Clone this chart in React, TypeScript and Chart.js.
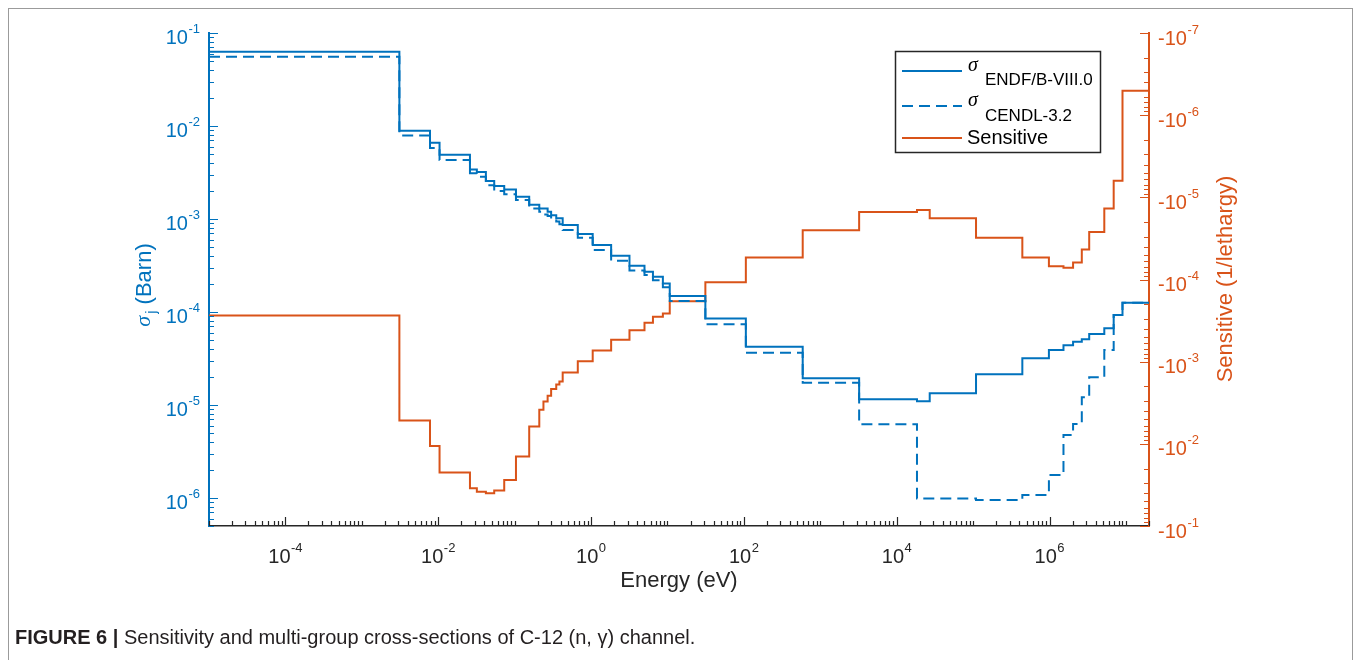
import React, { useEffect, useRef } from "react";
import { Chart, registerables } from "chart.js";

Chart.register(...registerables);

// Group boundaries (eV)
const energyBounds = [
  1e-5, 3.1e-3, 7.8e-3, 1.04e-2, 2.6e-2, 3.2e-2, 4.2e-2, 5.4e-2, 7.3e-2, 0.104,
  0.155, 0.21, 0.238, 0.27, 0.3, 0.35, 0.385, 0.425, 0.67, 1.05, 1.83, 3.18, 5.0,
  6.45, 8.7, 10.7, 31.3, 106, 588, 3220, 1.84e4, 2.7e4, 1.09e5, 4.4e5, 9.8e5,
  1.52e6, 2.03e6, 2.64e6, 3.3e6, 5.2e6, 6.9e6, 9.0e6, 2e7,
];

// Multi-group cross sections (Barn)
const sigmaENDF = [
  0.063, 8.9e-3, 6.6e-3, 4.9e-3, 3.4e-3, 3.2e-3, 2.56e-3, 2.26e-3, 2.08e-3, 1.74e-3,
  1.42e-3, 1.3e-3, 1.3e-3, 1.2e-3, 1.1e-3, 1.02e-3, 1.02e-3, 8.6e-4, 6.9e-4, 5.25e-4,
  4.03e-4, 3.15e-4, 2.71e-4, 2.4e-4, 2.03e-4, 1.49e-4, 8.5e-5, 4.23e-5, 1.94e-5, 1.15e-5,
  1.1e-5, 1.34e-5, 2.14e-5, 3.18e-5, 3.9e-5, 4.4e-5, 4.8e-5, 5.1e-5, 5.8e-5, 6.7e-5,
  9.3e-5, 1.26e-4,
];

const sigmaCENDL = [
  0.0556, 7.9e-3, 5.8e-3, 4.3e-3, 3.1e-3, 2.85e-3, 2.3e-3, 2.0e-3, 1.85e-3, 1.6e-3,
  1.3e-3, 1.2e-3, 1.12e-3, 1.08e-3, 1.0e-3, 9.4e-4, 8.8e-4, 7.6e-4, 6.3e-4, 4.65e-4,
  3.56e-4, 2.8e-4, 2.5e-4, 2.2e-4, 1.84e-4, 1.31e-4, 7.4e-5, 3.65e-5, 1.74e-5, 6.2e-6,
  9.9e-7, 9.9e-7, 9.5e-7, 1.08e-6, 1.77e-6, 4.75e-6, 6.25e-6, 1.21e-5, 1.99e-5, 3.9e-5,
  9.3e-5, 1.26e-4,
];

// Sensitivity (1/lethargy), negative values
const sensitivity = [
  -2.75e-4, -5.2e-3, -1.06e-2, -2.24e-2, -3.47e-2, -3.82e-2, -3.99e-2, -3.7e-2, -2.75e-2, -1.43e-2,
  -6.15e-3, -3.85e-3, -3.05e-3, -2.6e-3, -2.15e-3, -1.9e-3, -1.74e-3, -1.35e-3, -9.9e-4, -7.3e-4,
  -5.4e-4, -4.15e-4, -3.37e-4, -2.85e-4, -2.6e-4, -1.84e-4, -1.08e-4, -5.4e-5, -2.52e-5, -1.51e-5,
  -1.43e-5, -1.8e-5, -3.1e-5, -5.4e-5, -6.9e-5, -7.2e-5, -6.2e-5, -4.3e-5, -2.65e-5, -1.37e-5,
  -6.3e-6, -5.06e-7,
];

// Tick label exponents
const xTickExps = [-4, -2, 0, 2, 4, 6];
const yTickExps = [-6, -5, -4, -3, -2, -1];
const y2TickExps = [-7, -6, -5, -4, -3, -2, -1];

const FONT = '"Liberation Sans", Arial, Helvetica, sans-serif';
const BLUE = "#0072BD";
const ORANGE = "#D95319";
const AX = "#262626";

function steps(bounds: number[], vals: number[]) {
  const pts = vals.map((v, i) => ({ x: bounds[i], y: v }));
  pts.push({ x: bounds[bounds.length - 1], y: vals[vals.length - 1] });
  return pts;
}

function drawPow(
  ctx: CanvasRenderingContext2D,
  base: string,
  exp: string,
  x: number,
  y: number,
  align: "center" | "left" | "right",
  color: string
) {
  ctx.font = `20px ${FONT}`;
  const wb = ctx.measureText(base).width;
  ctx.font = `13px ${FONT}`;
  const we = ctx.measureText(exp).width;
  const total = wb + we + 0.5;
  const x0 = align === "center" ? x - total / 2 : align === "right" ? x - total : x;
  ctx.fillStyle = color;
  ctx.textAlign = "left";
  ctx.textBaseline = "middle";
  ctx.font = `20px ${FONT}`;
  ctx.fillText(base, x0, y);
  ctx.font = `13px ${FONT}`;
  ctx.fillText(exp, x0 + wb + 0.5, y - 9);
}

const decorPlugin = {
  id: "decor",
  afterDraw(chart: any) {
    const ctx: CanvasRenderingContext2D = chart.ctx;
    const { left, right, top, bottom } = chart.chartArea;
    const xs = chart.scales.x;
    const ys = chart.scales.y;
    const y2 = chart.scales.y2;
    ctx.save();

    // X ticks (inward)
    ctx.strokeStyle = AX;
    ctx.lineWidth = 1.2;
    ctx.beginPath();
    for (let n = -5; n <= 7; n++) {
      for (let m = 1; m <= 9; m++) {
        const v = m * Math.pow(10, n);
        if (v < xs.min * 0.999 || v > xs.max * 1.001) continue;
        const px = Math.round(xs.getPixelForValue(v)) + 0.5;
        const len = m === 1 && Math.abs(n % 2) === 0 ? 9 : 5;
        ctx.moveTo(px, bottom);
        ctx.lineTo(px, bottom - len);
      }
    }
    ctx.stroke();

    // Left y ticks
    ctx.strokeStyle = BLUE;
    ctx.beginPath();
    for (let n = -7; n <= -1; n++) {
      for (let m = 1; m <= 9; m++) {
        const v = m * Math.pow(10, n);
        if (v < ys.min * 0.999 || v > ys.max * 1.001) continue;
        const py = Math.round(ys.getPixelForValue(v)) + 0.5;
        const len = m === 1 ? 9 : 5;
        ctx.moveTo(left, py);
        ctx.lineTo(left + len, py);
      }
    }
    ctx.stroke();

    // Right y ticks
    ctx.strokeStyle = ORANGE;
    ctx.beginPath();
    for (let n = -7; n <= -1; n++) {
      for (let m = 1; m <= 9; m++) {
        const v = m * Math.pow(10, n);
        if (v < y2.min * 0.999 || v > y2.max * 1.001) continue;
        const py = Math.round(y2.getPixelForValue(v)) + 0.5;
        const len = m === 1 ? 9 : 5;
        ctx.moveTo(right, py);
        ctx.lineTo(right - len, py);
      }
    }
    ctx.stroke();

    // Tick labels
    xTickExps.forEach((e) => {
      const px = xs.getPixelForValue(Math.pow(10, e));
      drawPow(ctx, "10", String(e), px, bottom + 31, "center", AX);
    });
    yTickExps.forEach((e) => {
      const py = ys.getPixelForValue(Math.pow(10, e));
      drawPow(ctx, "10", String(e), left - 9, py + 5, "right", BLUE);
    });
    y2TickExps.forEach((e) => {
      const py = y2.getPixelForValue(Math.pow(10, e));
      drawPow(ctx, "-10", String(e), right + 9, py + 6, "left", ORANGE);
    });

    // X title
    ctx.fillStyle = AX;
    ctx.font = `22px ${FONT}`;
    ctx.textAlign = "center";
    ctx.textBaseline = "middle";
    ctx.fillText("Energy (eV)", (left + right) / 2, bottom + 55);

    // Right title
    ctx.save();
    ctx.translate(1226, 279);
    ctx.rotate(-Math.PI / 2);
    ctx.fillStyle = ORANGE;
    ctx.fillText("Sensitive (1/lethargy)", 0, 0);
    ctx.restore();

    // Left title: sigma_j (Barn)
    ctx.save();
    ctx.translate(145, 285);
    ctx.rotate(-Math.PI / 2);
    ctx.fillStyle = BLUE;
    ctx.textAlign = "left";
    const fSig = `italic 22px "Liberation Serif", "DejaVu Serif", serif`;
    const fSub = `15px ${FONT}`;
    const fMain = `22px ${FONT}`;
    ctx.font = fSig;
    const w1 = ctx.measureText("σ").width;
    ctx.font = fSub;
    const w2 = ctx.measureText("j").width;
    ctx.font = fMain;
    const w3 = ctx.measureText(" (Barn)").width;
    const tot = w1 + 2 + w2 + w3;
    let cx = -tot / 2;
    ctx.font = fSig;
    ctx.fillText("σ", cx, -1);
    cx += w1 + 2;
    ctx.font = fSub;
    ctx.fillText("j", cx, 7);
    cx += w2;
    ctx.font = fMain;
    ctx.fillText(" (Barn)", cx, 0);
    ctx.restore();

    // Legend
    const bx = 895, by = 51, bw = 205, bh = 101;
    ctx.fillStyle = "#ffffff";
    ctx.fillRect(bx, by, bw, bh);
    ctx.strokeStyle = AX;
    ctx.lineWidth = 1.5;
    ctx.strokeRect(bx + 0.5, by + 0.5, bw, bh);

    const drawSample = (y: number, color: string, dash: number[]) => {
      ctx.save();
      ctx.strokeStyle = color;
      ctx.lineWidth = 2;
      ctx.setLineDash(dash);
      ctx.beginPath();
      ctx.moveTo(902, y);
      ctx.lineTo(962, y);
      ctx.stroke();
      ctx.restore();
    };
    drawSample(71, BLUE, []);
    drawSample(106, BLUE, [11, 6]);
    drawSample(138, ORANGE, []);

    ctx.fillStyle = "#000000";
    ctx.textAlign = "left";
    ctx.textBaseline = "middle";
    ctx.font = `italic 20px "Liberation Serif", "DejaVu Serif", serif`;
    ctx.fillText("σ", 968, 66);
    ctx.fillText("σ", 968, 101);
    ctx.font = `17px ${FONT}`;
    ctx.fillText("ENDF/B-VIII.0", 985, 80);
    ctx.fillText("CENDL-3.2", 985, 116);
    ctx.font = `20px ${FONT}`;
    ctx.fillText("Sensitive", 967, 138);

    ctx.restore();
  },
};

export default function App() {
  const ref = useRef<HTMLCanvasElement>(null);

  useEffect(() => {
    if (!ref.current) return;
    const chart = new Chart(ref.current, {
      type: "line",
      data: {
        datasets: [
          {
            label: "ENDF/B-VIII.0",
            data: steps(energyBounds, sigmaENDF),
            yAxisID: "y",
            borderColor: BLUE,
            borderWidth: 2,
            stepped: "before",
            pointRadius: 0,
            fill: false,
          },
          {
            label: "CENDL-3.2",
            data: steps(energyBounds, sigmaCENDL),
            yAxisID: "y",
            borderColor: BLUE,
            borderWidth: 2,
            borderDash: [11, 6],
            stepped: "before",
            pointRadius: 0,
            fill: false,
          },
          {
            label: "Sensitive",
            data: steps(energyBounds, sensitivity.map((v) => -v)),
            yAxisID: "y2",
            borderColor: ORANGE,
            borderWidth: 2,
            stepped: "before",
            pointRadius: 0,
            fill: false,
          },
        ],
      },
      options: {
        animation: false,
        responsive: false,
        maintainAspectRatio: false,
        layout: { padding: { top: 33, left: 0, right: 0, bottom: 0 } },
        plugins: { legend: { display: false }, tooltip: { enabled: false } },
        scales: {
          x: {
            type: "logarithmic",
            position: "bottom",
            min: 1e-5,
            max: 2e7,
            grid: { display: false, drawTicks: false },
            ticks: { display: false },
            border: { display: true, color: AX, width: 1.5 },
            afterFit: (s: any) => {
              s.height = 134;
            },
          },
          y: {
            type: "logarithmic",
            position: "left",
            min: 5e-7,
            max: 0.1,
            grid: { display: false, drawTicks: false },
            ticks: { display: false },
            border: { display: true, color: BLUE, width: 2 },
            afterFit: (s: any) => {
              s.width = 209;
            },
          },
          y2: {
            type: "logarithmic",
            position: "right",
            min: 1e-7,
            max: 0.1,
            reverse: true,
            grid: { display: false, drawTicks: false },
            ticks: { display: false },
            border: { display: true, color: ORANGE, width: 2 },
            afterFit: (s: any) => {
              s.width = 210;
            },
          },
        },
      } as any,
      plugins: [decorPlugin],
    });
    return () => chart.destroy();
  }, []);

  return (
    <div
      style={{
        position: "fixed",
        left: 0,
        top: 0,
        width: 1359,
        height: 660,
        background: "#ffffff",
        overflow: "hidden",
      }}
    >
      <div
        style={{
          position: "absolute",
          left: 8,
          top: 8,
          width: 1345,
          height: 700,
          border: "1px solid #9b9b9b",
          boxSizing: "border-box",
        }}
      />
      <canvas
        ref={ref}
        width={1359}
        height={660}
        style={{ position: "absolute", left: 0, top: 0, width: 1359, height: 660 }}
      />
      <div
        style={{
          position: "absolute",
          left: 15,
          top: 626,
          font: `20px ${FONT}`,
          color: "#231f20",
          whiteSpace: "nowrap",
        }}
      >
        <b>FIGURE 6 |</b> Sensitivity and multi-group cross-sections of C-12 (n, γ) channel.
      </div>
    </div>
  );
}
